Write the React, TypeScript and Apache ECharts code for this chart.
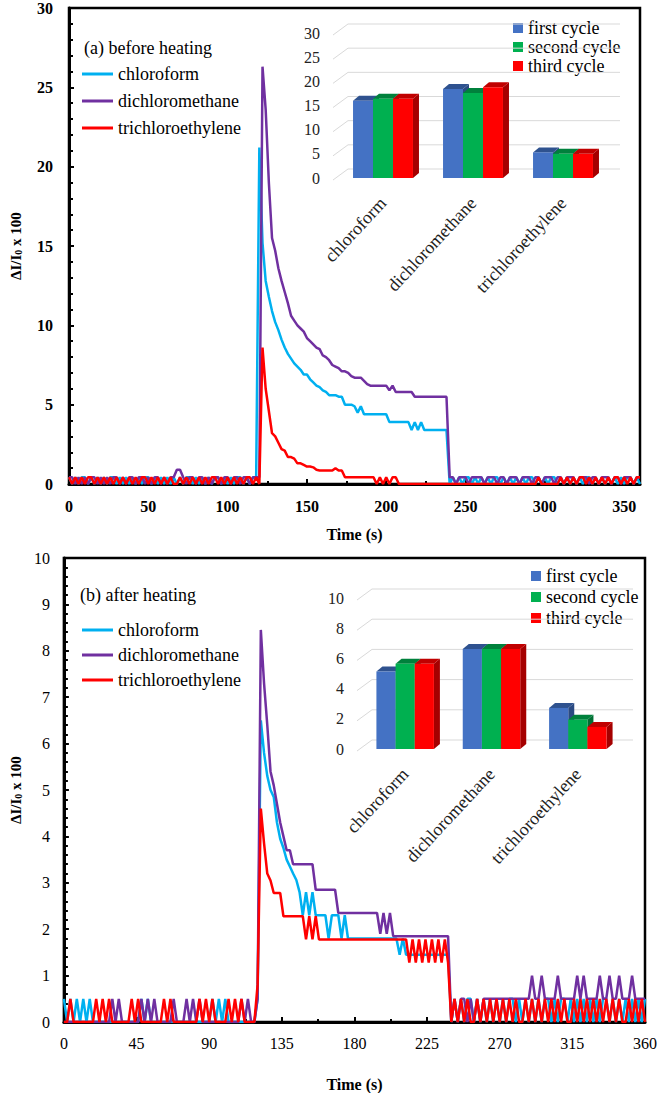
import React, { useEffect, useRef } from "react";
import * as echarts from "echarts";

const STEP = 2; // seconds between samples
const FONT = "Liberation Serif";

const SERIES_NAMES = ["chloroform", "dichloromethane", "trichloroethylene"];
const SERIES_COLORS = ["#00B0F0", "#7030A0", "#FF0000"];
const CYCLES = ["first cycle", "second cycle", "third cycle"];
const CYCLE_FRONT = ["#4472C4", "#00B050", "#FF0000"];
const CYCLE_TOP = ["#2F528F", "#00813C", "#C00000"];
const CYCLE_SIDE = ["#2A4A82", "#006E33", "#A50000"];

// (a) before heating, samples every 2 s from 0 to 360 s
const CHL_A = [
  .42,0,.42,0,.42,.42,0,.42,0,.42,
  0,.42,0,.42,.42,0,.42,0,.42,0,
  .42,0,.42,0,.42,.42,0,.42,0,.42,
  0,.42,0,.42,0,.42,0,.42,.42,0,
  .42,0,.42,0,.42,0,.42,.42,0,.42,
  0,.42,0,.42,.42,0,.42,0,.42,.42,
  21.2,15.2,12.8,11.8,10.9,10.2,9.7,9.1,8.6,8.2,
  7.9,7.6,7.4,7.2,6.9,6.9,6.6,6.4,6.2,6.1,
  5.9,5.8,5.6,5.6,5.6,5.5,5.5,5.0,5.0,5.0,
  4.9,4.5,4.9,4.4,4.4,4.4,4.4,4.4,4.4,4.4,
  4.4,3.9,3.9,3.9,3.9,3.9,3.9,3.9,3.4,3.9,
  3.4,3.9,3.4,3.4,3.4,3.4,3.4,3.4,3.4,3.4,
  0,.42,0,.42,0,.42,.42,0,.42,0,
  .42,0,.42,0,.42,.42,0,.42,0,.42,
  0,.42,0,.42,0,.42,.42,0,.42,0,
  .42,0,.42,.42,0,.42,0,.42,0,.42,
  0,.42,0,.42,.42,0,.42,0,.42,0,
  .42,0,.42,0,.42,0,.42,.42,0,.42,
  0,
];
const DCM_A = [
  .42,.42,0,.42,0,.42,0,.42,.42,0,
  .42,0,.42,0,.42,.42,0,.42,0,.42,
  .42,0,.42,.42,0,.42,0,.42,.42,0,
  .42,0,.42,.42,.9,.9,.42,0,.42,.42,
  0,.42,.42,0,.42,0,.42,.42,0,.42,
  .42,0,.42,.42,0,.42,.42,0,.42,.42,
  .42,26.3,23.6,19.0,15.5,14.7,13.6,12.8,12.1,11.4,
  10.6,10.3,10.0,9.8,9.6,9.2,9.0,8.8,8.6,8.5,
  8.1,8.0,7.8,7.5,7.4,7.3,7.1,7.1,7.0,6.8,
  6.7,6.7,6.7,6.5,6.3,6.2,6.2,6.2,6.2,6.2,
  6.2,5.9,6.2,5.8,5.8,5.8,5.8,5.8,5.8,5.5,
  5.5,5.5,5.5,5.5,5.5,5.5,5.5,5.5,5.5,5.5,
  .42,.42,0,.42,.42,.42,0,.42,.42,.42,
  .42,0,.42,.42,.42,0,.42,.42,0,.42,
  .42,.42,0,.42,.42,.42,0,.42,.42,0,
  .42,.42,.42,0,.42,.42,0,.42,.42,.42,
  0,.42,.42,.42,0,.42,.42,0,.42,.42,
  .42,0,.42,.42,0,.42,.42,.42,0,.42,
  .42,
];
const TCE_A = [
  .42,0,.42,0,.42,0,.42,.42,0,.42,
  0,.42,0,.42,0,.42,0,.42,0,.42,
  0,.42,0,.42,.42,0,.42,0,.42,0,
  .42,0,.42,0,0,.42,0,.42,0,.42,
  0,.42,0,.42,0,.42,.42,0,.42,0,
  .42,0,.42,0,.42,0,.42,.42,0,.42,
  0,8.6,6.0,4.6,3.2,3.0,2.6,2.2,2.1,1.7,
  1.7,1.6,1.3,1.3,1.2,1.1,1.1,1.05,0.9,0.85,
  0.85,0.85,0.85,0.85,1.0,0.85,0.85,.42,.42,.42,
  .42,.42,.42,.42,.42,.42,.42,0,.42,0,
  .42,0,.42,.42,0,0,0,0,0,0,
  0,0,0,0,0,0,0,0,0,0,
  0,0,0,0,0,0,0,0,0,0,
  0,0,0,0,0,0,0,0,0,0,
  0,0,0,0,0,0,0,0,.42,0,
  0,0,0,0,0,.42,0,.42,0,.42,
  0,.42,.42,0,.42,0,.42,0,.42,0,
  .42,0,.42,.42,0,.42,0,.42,0,.42,
  .42,
];

// (b) after heating
const CHL_B = [
  .5,0,.5,0,.5,0,.5,0,.5,0,
  0,0,0,0,0,0,0,0,0,0,
  0,0,0,0,.5,0,.5,0,0,0,
  0,0,0,0,0,0,0,0,0,0,
  0,0,0,0,0,0,.5,0,.5,0,
  .5,0,0,0,0,0,0,0,0,0,
  .5,6.5,5.8,5.3,5.0,4.85,4.3,3.95,3.75,3.5,
  3.35,3.2,3.06,2.8,2.3,2.8,2.3,2.8,2.3,2.3,
  2.3,2.3,1.8,2.3,2.3,2.3,1.8,2.3,1.8,1.8,
  1.8,1.8,1.8,1.8,1.8,1.8,1.8,1.8,1.8,1.8,
  1.8,1.8,1.8,1.8,1.45,1.8,1.45,1.45,1.45,1.45,
  1.45,1.45,1.45,1.45,1.45,1.45,1.45,1.45,1.45,1.45,
  0,.5,0,.5,0,.5,.5,0,.5,0,
  .5,0,.5,0,.5,0,.5,0,.5,.5,
  0,.5,0,.5,0,.5,0,.5,0,.5,
  .5,0,.5,0,.5,.5,0,.5,0,.5,
  0,.5,0,.5,0,.5,0,.5,.5,0,
  .5,0,.5,0,.5,0,.5,0,.5,0,
  .5,
];
const DCM_B = [
  0,0,0,0,0,0,0,0,0,0,
  0,0,0,0,0,.5,0,.5,0,0,
  0,0,0,0,.5,0,.5,0,.5,0,
  0,0,0,0,.5,0,0,0,.5,0,
  .5,0,.5,0,0,0,0,0,0,0,
  0,0,0,0,0,.5,0,.5,0,0,
  .5,8.45,7.3,6.4,5.4,5.1,4.7,4.3,4.0,3.7,
  3.7,3.4,3.4,3.4,3.4,3.4,3.4,3.4,2.85,2.85,
  2.85,2.85,2.85,2.85,2.85,2.35,2.35,2.35,2.35,2.35,
  2.35,2.35,2.35,2.35,2.35,2.35,2.35,2.35,1.9,2.35,
  1.9,2.35,1.85,1.85,1.85,1.85,1.85,1.85,1.85,1.85,
  1.85,1.85,1.85,1.85,1.85,1.85,1.85,1.85,1.85,1.85,
  0,.5,0,.5,.5,0,.5,0,.5,0,
  .5,.5,.5,.5,.5,.5,.5,.5,.5,.5,
  .5,.5,.5,.5,.5,1.0,.5,.5,1.0,.5,
  .5,.5,.5,1.0,.5,.5,.5,.5,.5,1.0,
  .5,1.0,.5,.5,.5,.5,1.0,.5,.5,1.0,
  .5,.5,1.0,.5,.5,.5,1.0,.5,.5,.5,
  .5,
];
const TCE_B = [
  0,0,.5,0,0,0,0,0,0,0,
  .5,0,.5,0,.5,0,0,0,0,0,
  0,.5,0,.5,0,0,0,0,0,0,
  0,.5,0,.5,0,0,0,0,0,0,
  0,0,.5,0,.5,0,.5,0,0,0,
  0,.5,0,.5,0,.5,0,0,0,0,
  .8,4.6,3.85,3.2,3.05,2.78,2.78,2.78,2.28,2.28,
  2.28,2.28,2.28,2.28,2.28,1.78,2.28,1.78,2.28,1.78,
  1.78,1.78,1.78,1.78,1.78,1.78,1.78,1.78,1.78,1.78,
  1.78,1.78,1.78,1.78,1.78,1.78,1.78,1.78,1.78,1.78,
  1.78,1.78,1.78,1.78,1.78,1.78,1.78,1.28,1.78,1.28,
  1.78,1.28,1.78,1.28,1.78,1.28,1.78,1.28,1.78,1.28,
  0,.5,0,.5,0,.5,0,0,.5,0,
  .5,0,.5,0,.5,0,.5,0,.5,0,
  .5,0,0,.5,0,.5,0,.5,0,.5,
  0,.5,0,.5,0,.5,0,0,.5,0,
  .5,0,.5,0,.5,0,.5,0,.5,0,
  .5,0,.5,0,0,.5,0,.5,0,.5,
  0,
];

// inset bar values [chloroform, dichloromethane, trichloroethylene]
const BAR_A = [
  [16.0, 18.4, 5.3],
  [16.4, 17.6, 5.0],
  [16.4, 18.8, 5.0],
];
const BAR_B = [
  [5.14, 6.62, 2.72],
  [5.65, 6.62, 1.94],
  [5.65, 6.62, 1.46],
];
const INSET_A_TICKS = [0, 5, 10, 15, 20, 25, 30];
const INSET_B_TICKS = [0, 2, 4, 6, 8, 10];

const toPairs = (arr: number[]) => arr.map((v, i) => [i * STEP, v]);

const gridLineItem = (params: any, api: any) => {
  const cs = params.coordSys;
  const y = api.coord([0, api.value(1)])[1];
  return {
    type: "polyline",
    shape: { points: [[cs.x - 5, y + 2], [cs.x + 10, y - 9], [cs.x + cs.width + 12, y - 9]] },
    style: { stroke: "#d9d9d9", lineWidth: 1, fill: "none" },
  };
};

const bar3D = (k: number) => (params: any, api: any) => {
  const cat = api.value(0);
  const val = api.value(1);
  const base = api.coord([cat, 0]);
  const tp = api.coord([cat, val]);
  const band = api.size([1, 0])[0];
  const w = band * 0.222;
  const x0 = base[0] + (k - 1.5) * w;
  const x1 = x0 + w;
  const yb = base[1];
  const yt = tp[1];
  const dx = 6;
  const dy = -5;
  return {
    type: "group",
    children: [
      { type: "polygon", shape: { points: [[x1, yb], [x1 + dx, yb + dy], [x1 + dx, yt + dy], [x1, yt]] }, style: { fill: CYCLE_SIDE[k] } },
      { type: "polygon", shape: { points: [[x0, yt], [x0 + dx, yt + dy], [x1 + dx, yt + dy], [x1, yt]] }, style: { fill: CYCLE_TOP[k] } },
      { type: "rect", shape: { x: x0, y: yt, width: w, height: yb - yt }, style: { fill: CYCLE_FRONT[k] } },
    ],
  };
};

const yTitle = {
  a: { fontFamily: FONT, fontSize: 15, fontWeight: "bold", color: "#000", verticalAlign: "bottom", lineHeight: 18 },
  s: { fontFamily: FONT, fontSize: 10, fontWeight: "bold", color: "#000", verticalAlign: "bottom", lineHeight: 14 },
};

const legendRich = { t: { fontFamily: FONT, fontSize: 18, color: "#000", fontWeight: "normal" } };

export default function App() {
  const ref = useRef<HTMLDivElement>(null);
  useEffect(() => {
    if (!ref.current) return;
    const chart = echarts.init(ref.current, undefined, { renderer: "svg" });
    const lineSeries = (arrs: number[][], xi: number) =>
      arrs.map((arr, k) => ({
        type: "line",
        name: SERIES_NAMES[k],
        xAxisIndex: xi,
        yAxisIndex: xi,
        data: toPairs(arr),
        showSymbol: false,
        lineStyle: { color: SERIES_COLORS[k], width: 2.5 },
        itemStyle: { color: SERIES_COLORS[k] },
        z: 3 + k,
      }));
    const barSeries = (vals: number[][], ai: number) =>
      vals.map((row, k) => ({
        type: "custom",
        name: CYCLES[k],
        xAxisIndex: ai,
        yAxisIndex: ai,
        data: row.map((v, i) => [i, v]),
        encode: { x: 0, y: 1 },
        renderItem: bar3D(k),
        itemStyle: { color: CYCLE_FRONT[k] },
        z: 10 + k,
      }));
    const gridSeries = (ticks: number[], ai: number) => ({
      type: "custom",
      xAxisIndex: ai,
      yAxisIndex: ai,
      data: ticks.map((t) => [0, t]),
      encode: { x: 0, y: 1 },
      renderItem: gridLineItem,
      z: 5,
      silent: true,
    });

    const mainX = (gi: number, interval: number, bold: boolean, nameGap: number, labelMargin: number) => ({
      type: "value",
      gridIndex: gi,
      min: 0,
      max: 360,
      interval,
      name: "Time (s)",
      nameLocation: "middle",
      nameGap,
      nameTextStyle: { fontFamily: FONT, fontSize: 16, fontWeight: "bold", color: "#000" },
      axisLine: { lineStyle: { color: "#000", width: 3 } },
      axisTick: { inside: true, length: 5, lineStyle: { color: "#000", width: 2 } },
      minorTick: { show: true, splitNumber: 2, length: 3, lineStyle: { color: "#000", width: 2 } },
      axisLabel: { fontFamily: FONT, fontSize: 16, fontWeight: bold ? "bold" : "normal", color: "#000", margin: labelMargin },
      splitLine: { show: false },
    });
    const mainY = (gi: number, max: number, interval: number, bold: boolean, nameGap: number, margin: number) => ({
      type: "value",
      gridIndex: gi,
      min: 0,
      max,
      interval,
      name: "{a|ΔI/I}{s|0}{a| x 100}",
      nameLocation: "middle",
      nameGap,
      nameTextStyle: { rich: yTitle },
      axisLine: { show: true, lineStyle: { color: "#000", width: 3 } },
      axisTick: { inside: true, length: 5, lineStyle: { color: "#000", width: 2 } },
      minorTick: { show: true, splitNumber: 5, length: 4, lineStyle: { color: "#000", width: 2 } },
      axisLabel: { fontFamily: FONT, fontSize: 16, fontWeight: bold ? "bold" : "normal", color: "#000", margin },
      splitLine: { show: false },
    });
    const insetX = (gi: number, margin: number) => ({
      type: "category",
      gridIndex: gi,
      data: SERIES_NAMES,
      axisLine: { show: false },
      axisTick: { show: false },
      axisLabel: { fontFamily: FONT, fontSize: 18, color: "#222", rotate: 47, margin, interval: 0 },
      splitLine: { show: false },
    });
    const insetY = (gi: number, max: number, interval: number, margin: number) => ({
      type: "value",
      gridIndex: gi,
      min: 0,
      max,
      interval,
      axisLine: { show: false },
      axisTick: { show: false },
      axisLabel: { fontFamily: FONT, fontSize: 16, color: "#222", margin },
      splitLine: { show: false },
    });
    const lineLegend = (top: number, gap: number) => ({
      data: SERIES_NAMES,
      orient: "vertical",
      left: 77,
      top,
      itemWidth: 31,
      itemHeight: 3,
      itemGap: gap,
      icon: "rect",
      selectedMode: false,
      formatter: "{t|{name}}",
      textStyle: { fontFamily: FONT, fontSize: 18, color: "#000", rich: legendRich },
    });
    const barLegend = (left: number, top: number, gap: number) => ({
      data: CYCLES,
      orient: "vertical",
      left,
      top,
      itemWidth: 10,
      itemHeight: 10,
      itemGap: gap,
      icon: "rect",
      selectedMode: false,
      formatter: "{t|{name}}",
      textStyle: { fontFamily: FONT, fontSize: 18, color: "#000", rich: legendRich },
    });

    chart.setOption({
      animation: false,
      backgroundColor: "#fff",
      textStyle: { fontFamily: FONT },
      title: [
        { text: "(a) before heating", left: 79, top: 34, textStyle: { fontFamily: FONT, fontSize: 18, fontWeight: "normal", color: "#000" } },
        { text: "(b) after heating", left: 75, top: 581, textStyle: { fontFamily: FONT, fontSize: 18, fontWeight: "normal", color: "#000" } },
      ],
      legend: [lineLegend(60, 9), lineLegend(616, 7), barLegend(508, 14, 1), barLegend(526, 562, 3)],
      grid: [
        { left: 62, top: 8, width: 578, height: 476, show: true, borderColor: "#000", borderWidth: 2.5 },
        { left: 338, top: 33, width: 270, height: 145 },
        { left: 56, top: 558, width: 589, height: 470, show: true, borderColor: "#000", borderWidth: 2.5 },
        { left: 362, top: 598, width: 259, height: 151 },
      ],
      xAxis: [
        mainX(0, 50, true, 42, 14),
        insetX(1, 22),
        mainX(2, 45, false, 54, 13),
        insetX(3, 22),
      ],
      yAxis: [
        mainY(0, 30, 5, true, 46, 16),
        insetY(1, 30, 5, 18),
        mainY(2, 10, 1, false, 40, 14),
        insetY(3, 10, 2, 18),
      ],
      series: [
        ...lineSeries([CHL_A, DCM_A, TCE_A], 0),
        gridSeries(INSET_A_TICKS, 1),
        ...barSeries(BAR_A, 1),
        ...lineSeries([CHL_B, DCM_B, TCE_B], 2),
        gridSeries(INSET_B_TICKS, 3),
        ...barSeries(BAR_B, 3),
      ],
    });
    return () => chart.dispose();
  }, []);
  return <div ref={ref} style={{ position: "absolute", left: 0, top: 0, width: 661, height: 1093 }} />;
}
